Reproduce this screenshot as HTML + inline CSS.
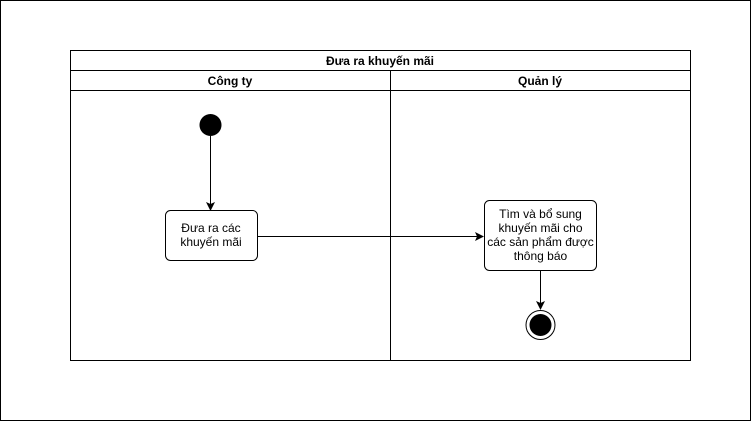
<!DOCTYPE html>
<html><head><meta charset="utf-8"><style>
html,body{margin:0;padding:0;background:#fff}
svg{display:block}
text{font-family:"Liberation Sans",Arial,sans-serif;font-size:12px;fill:#000}
</style></head><body>
<svg width="751" height="421" viewBox="0 0 751 421" xmlns="http://www.w3.org/2000/svg">
<rect x="0.5" y="0.5" width="750" height="420" fill="#fff" stroke="#000"/>
<rect x="70.5" y="50.5" width="620" height="310" fill="#fff" stroke="#000"/>
<line x1="70" y1="70.5" x2="691" y2="70.5" stroke="#000"/>
<line x1="70" y1="90.5" x2="691" y2="90.5" stroke="#000"/>
<line x1="390.5" y1="70" x2="390.5" y2="361" stroke="#000"/>
<text x="380" y="65" text-anchor="middle" font-weight="bold">Đưa ra khuyến mãi</text>
<text x="230" y="85" text-anchor="middle" font-weight="bold">Công ty</text>
<text x="540" y="85" text-anchor="middle" font-weight="bold">Quản lý</text>
<circle cx="210.5" cy="125" r="11" fill="#000"/>
<line x1="210.5" y1="136" x2="210.5" y2="204" stroke="#000"/>
<polygon points="210.5,211 206,202 210.5,204 215,202" fill="#000"/>
<rect x="165.5" y="210.5" width="92" height="50" rx="5" fill="#fff" stroke="#000"/>
<text x="211" y="232" text-anchor="middle">Đưa ra các</text>
<text x="211" y="246" text-anchor="middle">khuyến mãi</text>
<line x1="258" y1="236.5" x2="477" y2="236.5" stroke="#000"/>
<polygon points="484,236.5 475,232 477,236.5 475,241" fill="#000"/>
<rect x="484.5" y="200.5" width="112" height="70" rx="5" fill="#fff" stroke="#000"/>
<text x="540.5" y="218" text-anchor="middle">Tìm và bổ sung</text>
<text x="540.5" y="232" text-anchor="middle">khuyến mãi cho</text>
<text x="540.5" y="246" text-anchor="middle">các sản phẩm được</text>
<text x="540.5" y="260" text-anchor="middle">thông báo</text>
<line x1="540.5" y1="271" x2="540.5" y2="303" stroke="#000"/>
<polygon points="540.5,310 536,301 540.5,303 545,301" fill="#000"/>
<circle cx="540.5" cy="325" r="14.5" fill="#fff" stroke="#000"/>
<circle cx="540.5" cy="325" r="11" fill="#000"/>
</svg>
</body></html>
